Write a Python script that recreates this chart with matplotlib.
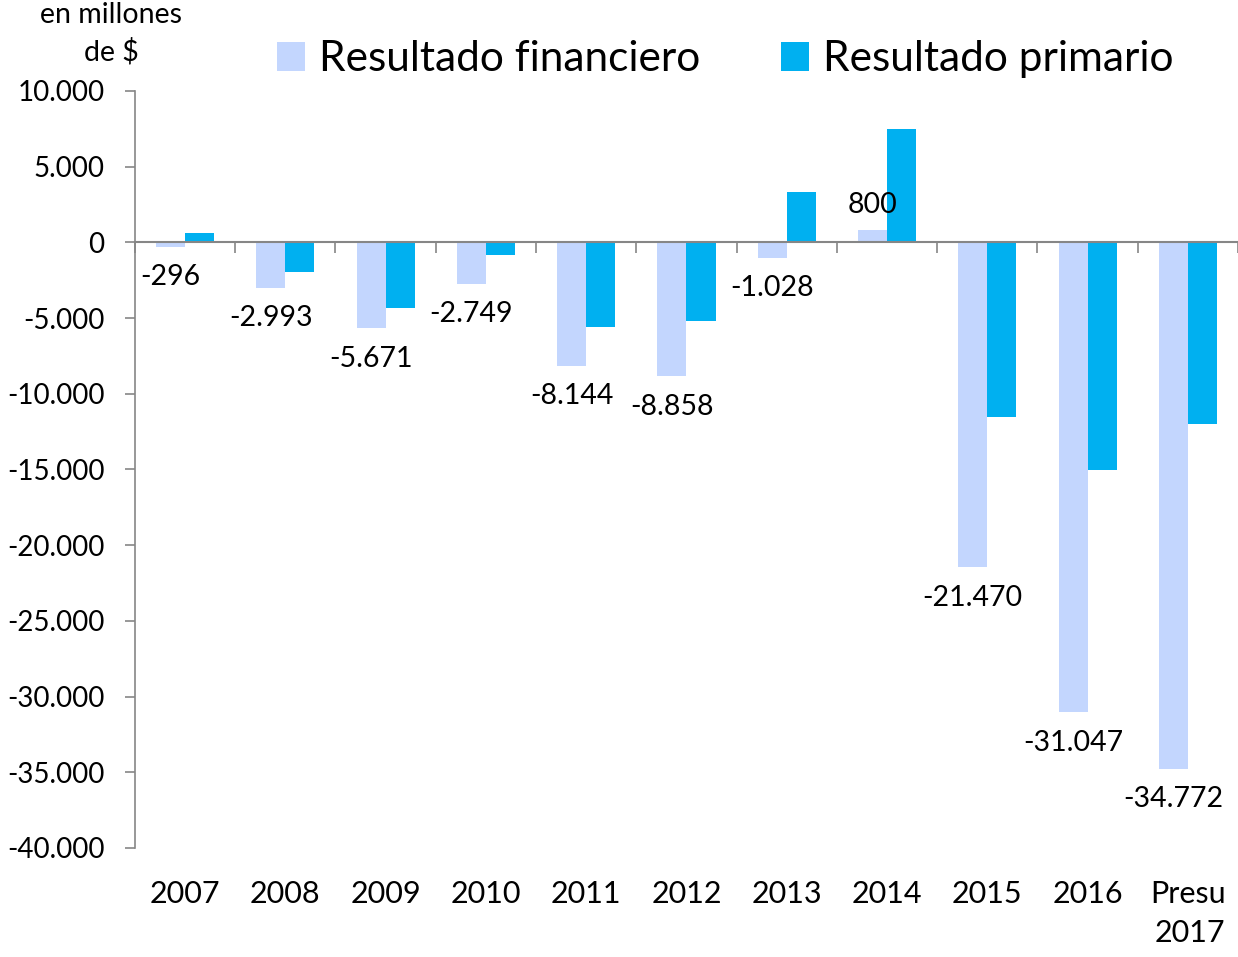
import matplotlib
matplotlib.use("Agg")
import matplotlib.pyplot as plt
import matplotlib.transforms as mtransforms
from matplotlib.ticker import FuncFormatter
import numpy as np

plt.rcParams['font.family'] = ['Lato', 'DejaVu Sans']

categorias = ["2007", "2008", "2009", "2010", "2011", "2012",
              "2013", "2014", "2015", "2016", "Presu\n2017"]
financiero = [-296, -2993, -5671, -2749, -8144, -8858,
              -1028, 800, -21470, -31047, -34772]
primario = [600, -1980, -4360, -860, -5610, -5220,
            3300, 7460, -11560, -15060, -12020]

c_fin = "#C3D6FE"
c_pri = "#00B0F0"
gris = "#868686"


def miles(v):
    return f"{int(v):,}".replace(",", ".")


fig = plt.figure(figsize=(12.38, 9.57), dpi=100)
ax = fig.add_axes([0.109, 0.114, 0.891, 0.791])

x = np.arange(len(categorias))
w = 0.29
ax.bar(x - w / 2, financiero, w, color=c_fin, label="Resultado financiero")
ax.bar(x + w / 2, primario, w, color=c_pri, label="Resultado primario")

# etiquetas del resultado financiero
for xi, v in zip(x, financiero):
    off = 18 if v >= 0 else -22
    ax.annotate(miles(v), (xi - w / 2, v), xytext=(0, off),
                textcoords="offset points", ha="center", va="center",
                fontsize=20.5)

ax.set_xlim(-0.5, len(categorias) - 0.5)
ax.set_ylim(-40000, 10000)
ax.set_yticks(np.arange(-40000, 10001, 5000))
ax.yaxis.set_major_formatter(FuncFormatter(lambda v, p: miles(v)))
ax.tick_params(axis="y", labelsize=20, length=7, color=gris, width=1.2, pad=15)

ax.spines["bottom"].set_position(("data", 0))
ax.spines["bottom"].set_color(gris)
ax.spines["bottom"].set_linewidth(1.5)
ax.spines["left"].set_color(gris)
ax.spines["left"].set_linewidth(1.2)
ax.spines["top"].set_visible(False)
ax.spines["right"].set_visible(False)

ax.set_xticks(np.arange(len(categorias) + 1) - 0.5)
ax.set_xticklabels([])
ax.tick_params(axis="x", direction="out", length=8, color=gris, width=1.2)

trans = mtransforms.blended_transform_factory(ax.transData, ax.transAxes)
for xi, lab in zip(x, categorias):
    ax.text(xi, -0.043, lab, transform=trans, ha="center", va="top",
            fontsize=22, linespacing=1.45,
            multialignment="right" if "\n" in lab else "center")

fig.text(0.090, 0.998, "en millones\nde $", ha="center", va="top",
         fontsize=20.5, linespacing=1.45)

fig.legend(loc="center", bbox_to_anchor=(0.586, 0.938), ncol=2, frameon=False,
           fontsize=30.5, handlelength=0.65, handleheight=0.65, handletextpad=0.35,
           columnspacing=1.9)

fig.savefig("out.png", dpi=100)
